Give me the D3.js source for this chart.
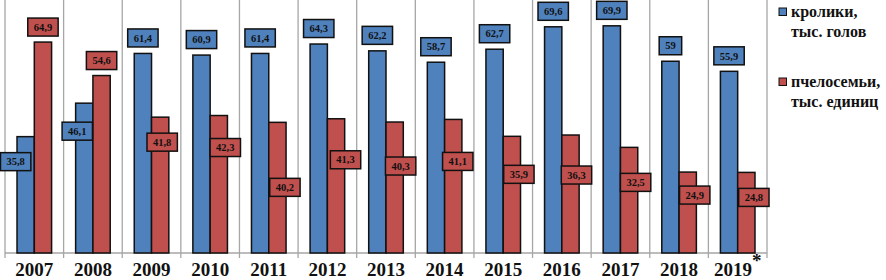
<!DOCTYPE html>
<html>
<head>
<meta charset="utf-8">
<script src="https://cdn.jsdelivr.net/npm/d3@7"></script>
<style>
  html, body { margin: 0; padding: 0; background: #fff; }
  svg { display: block; }
</style>
</head>
<body>
<svg id="chart" width="886" height="280"></svg>
<script>
// ---- data ----
const years = ["2007","2008","2009","2010","2011","2012","2013","2014","2015","2016","2017","2018","2019"];
const rabbits = [35.8, 46.1, 61.4, 60.9, 61.4, 64.3, 62.2, 58.7, 62.7, 69.6, 69.9, 59, 55.9];
const beeColonies = [64.9, 54.6, 41.8, 42.3, 40.2, 41.3, 40.3, 41.1, 35.9, 36.3, 32.5, 24.9, 24.8];
const seriesNames = [["кролики,", "тыс. голов"], ["пчелосемьи,", "тыс. единиц"]];
const yearNotes = ["", "", "", "", "", "", "", "", "", "", "", "", "*"];

// ---- layout (label placement, pixels relative to bar top/center) ----
const redLabelDrop  = [-15, -15, 25, 32, 65, 41, 44, 42, 38, 40, 35, 23, 25];
const redLabelShift = [0, 0, 2, 6.5, 7.5, 9.5, 6, 4.5, 7, 6, 6.5, 7, 7.5];
const blueLabelDrop  = [25, 28, -15.5, -15.5, -15.5, -15.5, -15.5, -15.5, -15.5, -15.5, -15.5, -15.5, -15.5];
const blueLabelShift = [-10, -7, 0, 0, 0, 0, 0, 0, 0, 0, 0, 0, 0];

const colors = ["#4F81BD", "#C0504D"];
const FONT = "'Liberation Serif', 'Times New Roman', Tinos, serif";
const fmt = v => String(v).replace(".", ",");

const svg = d3.select("#chart");
const left = 5, right = 767, base = 253;

const x = d3.scaleBand().domain(years).range([left, right]).padding(0);
const bw = x.bandwidth();
const x1 = d3.scaleBand().domain([0, 1]).range([bw * 0.205, bw * 0.795]).padding(0);
const y = d3.scaleLinear().domain([0, 78]).range([base, base - 78 * 3.25]);

// vertical grid at category boundaries
const bounds = years.map(d => x(d)).concat([right]);
svg.append("g").selectAll("line").data(bounds).join("line")
  .attr("x1", d => d).attr("x2", d => d)
  .attr("y1", y(78)).attr("y2", base + 5)
  .attr("stroke", "#a6a6a6").attr("stroke-width", 1.3);

// baseline
svg.append("line")
  .attr("x1", left).attr("x2", right).attr("y1", base).attr("y2", base)
  .attr("stroke", "#a6a6a6").attr("stroke-width", 1.3);

const series = [rabbits, beeColonies];

// bars
series.forEach((vals, s) => {
  svg.append("g").selectAll("rect").data(vals).join("rect")
    .attr("x", (d, i) => x(years[i]) + x1(s))
    .attr("width", x1.bandwidth())
    .attr("y", d => y(d))
    .attr("height", d => base - y(d))
    .attr("fill", colors[s])
    .attr("stroke", "#111")
    .attr("stroke-width", 1.5);
});

// data labels
const drops = [blueLabelDrop, redLabelDrop];
const shifts = [blueLabelShift, redLabelShift];
series.forEach((vals, s) => {
  const g = svg.append("g");
  vals.forEach((v, i) => {
    const cx = x(years[i]) + x1(s) + x1.bandwidth() / 2 + shifts[s][i];
    const cy = y(v) + drops[s][i];
    const lg = g.append("g");
    const t = lg.append("text")
      .attr("x", cx).attr("y", cy + 3.7)
      .attr("text-anchor", "middle")
      .style("font-family", FONT).style("font-weight", "bold")
      .attr("font-size", 10.5)
      .attr("fill", "#111")
      .text(fmt(v));
    const w = t.node().getComputedTextLength() + 12;
    lg.insert("rect", "text")
      .attr("x", cx - w / 2).attr("y", cy - 9)
      .attr("width", w).attr("height", 18)
      .attr("fill", colors[s])
      .attr("stroke", "#111").attr("stroke-width", 1.5);
  });
});

// category labels
const xl = svg.append("g").selectAll("text").data(years).join("text")
  .attr("x", d => x(d) + bw / 2)
  .attr("y", 275.5)
  .attr("text-anchor", "middle")
  .style("font-family", FONT).style("font-weight", "bold")
  .attr("font-size", 19)
  .attr("fill", "#111")
  .text(d => d);
xl.filter((d, i) => yearNotes[i]).append("tspan")
  .attr("dx", 0).attr("dy", -9)
  .text((d) => yearNotes[years.indexOf(d)]);

// legend
const leg = svg.append("g");
seriesNames.forEach((lines, s) => {
  const ly = 17 + s * 70;
  leg.append("rect")
    .attr("x", 779).attr("y", ly - 9).attr("width", 7.5).attr("height", 7.5)
    .attr("fill", colors[s]).attr("stroke", "#111").attr("stroke-width", 1);
  lines.forEach((ln, k) => {
    leg.append("text")
      .attr("x", 791).attr("y", ly + k * 19.5)
      .style("font-family", FONT).style("font-weight", "bold")
      .attr("font-size", 16)
      .attr("fill", "#111")
      .text(ln);
  });
});
</script>
</body>
</html>
